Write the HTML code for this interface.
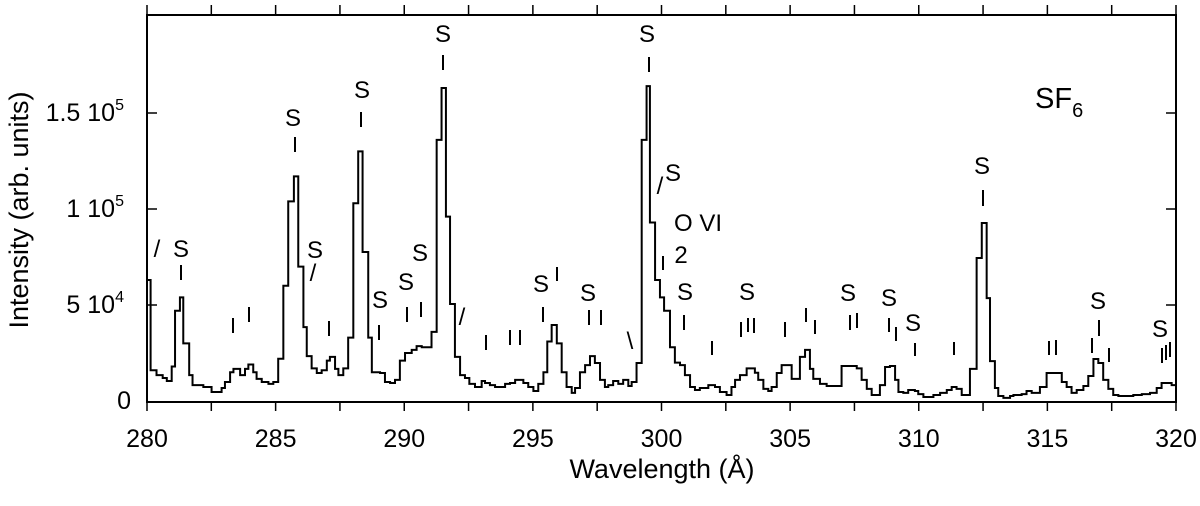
<!DOCTYPE html>
<html><head><meta charset="utf-8"><style>
body{margin:0;background:#fff}
svg text{font-family:"Liberation Sans",Arial,sans-serif;fill:#000}
</style></head><body>
<svg width="1200" height="501" viewBox="0 0 1200 501">
<g id="axes"></g>
<g id="spec"></g>
<g id="ann"></g>
<text x="1035" y="108" font-size="29">SF<tspan font-size="20" dy="9">6</tspan></text>
<text x="662" y="478" font-size="27" text-anchor="middle">Wavelength (Å)</text>
<text transform="translate(28,210) rotate(-90)" font-size="27" text-anchor="middle">Intensity (arb. units)</text>
</svg>
<script>
const wl=[280.0,280.14,280.37,280.61,280.77,280.96,281.09,281.28,281.41,281.64,281.77,282.19,282.51,282.9,283.03,283.23,283.36,283.62,283.81,283.94,284.13,284.26,284.46,284.72,284.91,285.1,285.3,285.49,285.71,285.88,286.08,286.21,286.4,286.6,286.79,286.99,287.11,287.31,287.44,287.63,287.82,288.02,288.21,288.38,288.6,288.74,289.06,289.25,289.45,289.64,289.83,290.03,290.29,290.48,290.68,291.06,291.26,291.45,291.62,291.78,291.97,292.17,292.36,292.53,292.75,293.01,293.14,293.33,293.53,293.92,294.11,294.31,294.63,294.82,295.02,295.21,295.41,295.56,295.73,295.93,296.12,296.31,296.51,296.64,296.83,297.03,297.22,297.41,297.61,297.8,297.93,298.12,298.32,298.51,298.71,298.84,299.03,299.23,299.42,299.55,299.75,299.94,300.1,300.33,300.52,300.72,300.91,301.11,301.3,301.49,301.82,302.08,302.27,302.53,302.72,302.86,303.05,303.31,303.63,303.76,303.96,304.15,304.28,304.48,304.67,305.06,305.38,305.58,305.77,305.9,306.16,306.42,307.0,307.59,307.78,307.98,308.17,308.49,308.69,308.88,309.08,309.21,309.4,309.59,309.85,309.98,310.18,310.57,310.83,311.09,311.28,311.47,311.67,311.99,312.25,312.45,312.64,312.77,312.96,313.09,313.29,313.55,313.68,314.0,314.19,314.39,314.71,314.97,315.56,315.75,315.94,316.14,316.4,316.59,316.79,316.98,317.17,317.37,317.56,317.76,318.34,318.67,318.99,319.25,319.44,319.83];
const val=[63,16,13.5,12,10.4,18,47,54,30,13.5,8.3,7.3,4.7,6.8,9.9,15,16.7,13.5,16.7,19,15,11.5,9.9,8.9,9.9,22,60,104,117,70,38.5,23.4,17,14.6,16,21,23,16.7,13.5,17,33,103,130,77.6,33,15,14.6,9.9,9.4,11,21,25,26.6,28.6,28,36,136,163,96,50.5,23,13.5,12,8.9,7.3,10.4,9.4,8.3,7.3,8.9,9.4,11,9.4,7.3,5.2,8.9,15,31,39.6,30,15,7.3,4.2,6.8,15,18.7,23.4,19.8,11,7.3,8.3,10.4,8.9,11,7.8,9.9,19.8,136,164,93,63,54,47,28,20,18.7,13.5,7.3,5.7,6.8,8.3,7.3,4.7,3.1,7.3,11,13.5,17,14.7,11,6.3,5.2,7.3,14.6,18.7,11.5,23,26.6,16.7,11.5,8.9,7.8,18.2,17,11,6.3,3.1,8.3,17.7,18.2,11,4.7,4.2,5.7,5.2,3.6,2.1,3.1,4.2,5.7,7.3,6.3,3.1,16.7,74.5,92.7,53.6,20.8,6.8,2.6,1.6,2.6,3.1,3.6,5.2,4.2,7.3,14.6,9.9,7.3,4.2,5.7,7.8,13,21.9,19.8,11,6.3,3.1,2.6,3.1,3.6,4.2,6.8,9.4,8.3];
const xTicks=[280,285,290,295,300,305,310,315,320];
const yTicks=[0,50,100,150];
const yLabels=["0","5 10","1 10","1.5 10"];
const yExps=["","4","5","5"];
const NS='http://www.w3.org/2000/svg';
const X0=147,X1=1176,Y0=401,YTOP=15,YBOT=402;
function sx(w){return X0+(w-280)/40*(X1-X0);}
function sy(v){return Y0-v*96/50;}
function mk(tag,attrs,parent){const e=document.createElementNS(NS,tag);for(const k in attrs)e.setAttribute(k,attrs[k]);parent.appendChild(e);return e;}
const axes=document.getElementById('axes');
const frame=mk('rect',{x:X0,y:YTOP,width:X1-X0,height:YBOT-YTOP,fill:'none',stroke:'#000','stroke-width':2},axes);


for(let w=280;w<=320;w+=2.5){
  const x=sx(w);
  const t1=mk('line',{x1:x,x2:x,y1:YTOP,y2:YTOP-10,stroke:'#000','stroke-width':1.5},axes);
  
  
  const t2=mk('line',{x1:x,x2:x,y1:YBOT,y2:YBOT+9,stroke:'#000','stroke-width':1.5},axes);
  
  
}
xTicks.forEach(w=>{
  const t=mk('text',{x:sx(w),y:447,'font-size':25,'text-anchor':'middle'},axes);
  t.textContent=w;
  
  
});
yTicks.forEach((v,i)=>{
  const y=sy(v);
  if(v>0){
    const a=mk('line',{x1:X0,x2:X0+10,y1:y,y2:y,stroke:'#000','stroke-width':1.5},axes);
    
    
    const b=mk('line',{x1:X1,x2:X1-10,y1:y,y2:y,stroke:'#000','stroke-width':1.5},axes);
    
    
  }
  const t=mk('text',{x:v===0?131:124,y:y+8,'font-size':25,'text-anchor':'end'},axes);
  t.textContent=yLabels[i];
  if(yExps[i]){const s=mk('tspan',{'font-size':16,dy:-11},t);s.textContent=yExps[i];}
  
  
});
let d='M'+sx(wl[0])+','+sy(0)+' L'+sx(wl[0])+','+sy(val[0]);
for(let i=0;i<wl.length;i++){
  const xe=sx(i+1<wl.length?wl[i+1]:320);
  d+=' L'+xe+','+sy(val[i]);
  if(i+1<wl.length)d+=' L'+xe+','+sy(val[i+1]);
}
const p=mk('path',{d:d,fill:'none',stroke:'#000','stroke-width':2},document.getElementById('spec'));


const ann=document.getElementById('ann');
const labels=[["S",181,257],["/",157,257],["S",293,126],["S",315,258],["/",313,281],["S",362,98],["S",380,308],["S",406,290],["S",420,261],["S",443,42],["/",462,325],["S",541,292],["S",588,301],["\\",630,349],["S",647,42],["/",660,194],["S",673,181],["O VI",698,231],["2",681,263],["S",685,300],["S",747,300],["S",848,301],["S",889,306],["S",913,331],["S",982,174],["S",1098,309],["S",1160,337]];
const ticks=[[181,265,280],[295,137,152],[361,112,127],[379,325,340],[407,307,322],[421,302,317],[443,55,70],[233,318,333],[249,307,322],[329,321,336],[486,335,350],[510,330,345],[520,330,345],[543,307,322],[557,267,281],[589,310,325],[601,310,325],[649,57,72],[663,256,270],[684,315,330],[712,341,355],[741,322,337],[748,318,332],[754,318,333],[785,322,337],[806,308,322],[815,320,334],[850,315,330],[857,313,328],[889,318,332],[896,327,341],[915,343,356],[954,342,355],[983,190,206],[1049,341,355],[1056,340,355],[1092,338,353],[1099,320,336],[1109,348,362],[1162,348,363],[1166,345,360],[1170,342,357]];
labels.forEach(l=>{
  const t=mk('text',{x:l[1],y:l[2],'font-size':24,'text-anchor':'middle'},ann);
  t.textContent=l[0];
  
  
});
ticks.forEach(k=>{
  const t=mk('line',{x1:k[0],x2:k[0],y1:k[1],y2:k[2],stroke:'#000','stroke-width':2},ann);
  
  
});
</script>
</body></html>
